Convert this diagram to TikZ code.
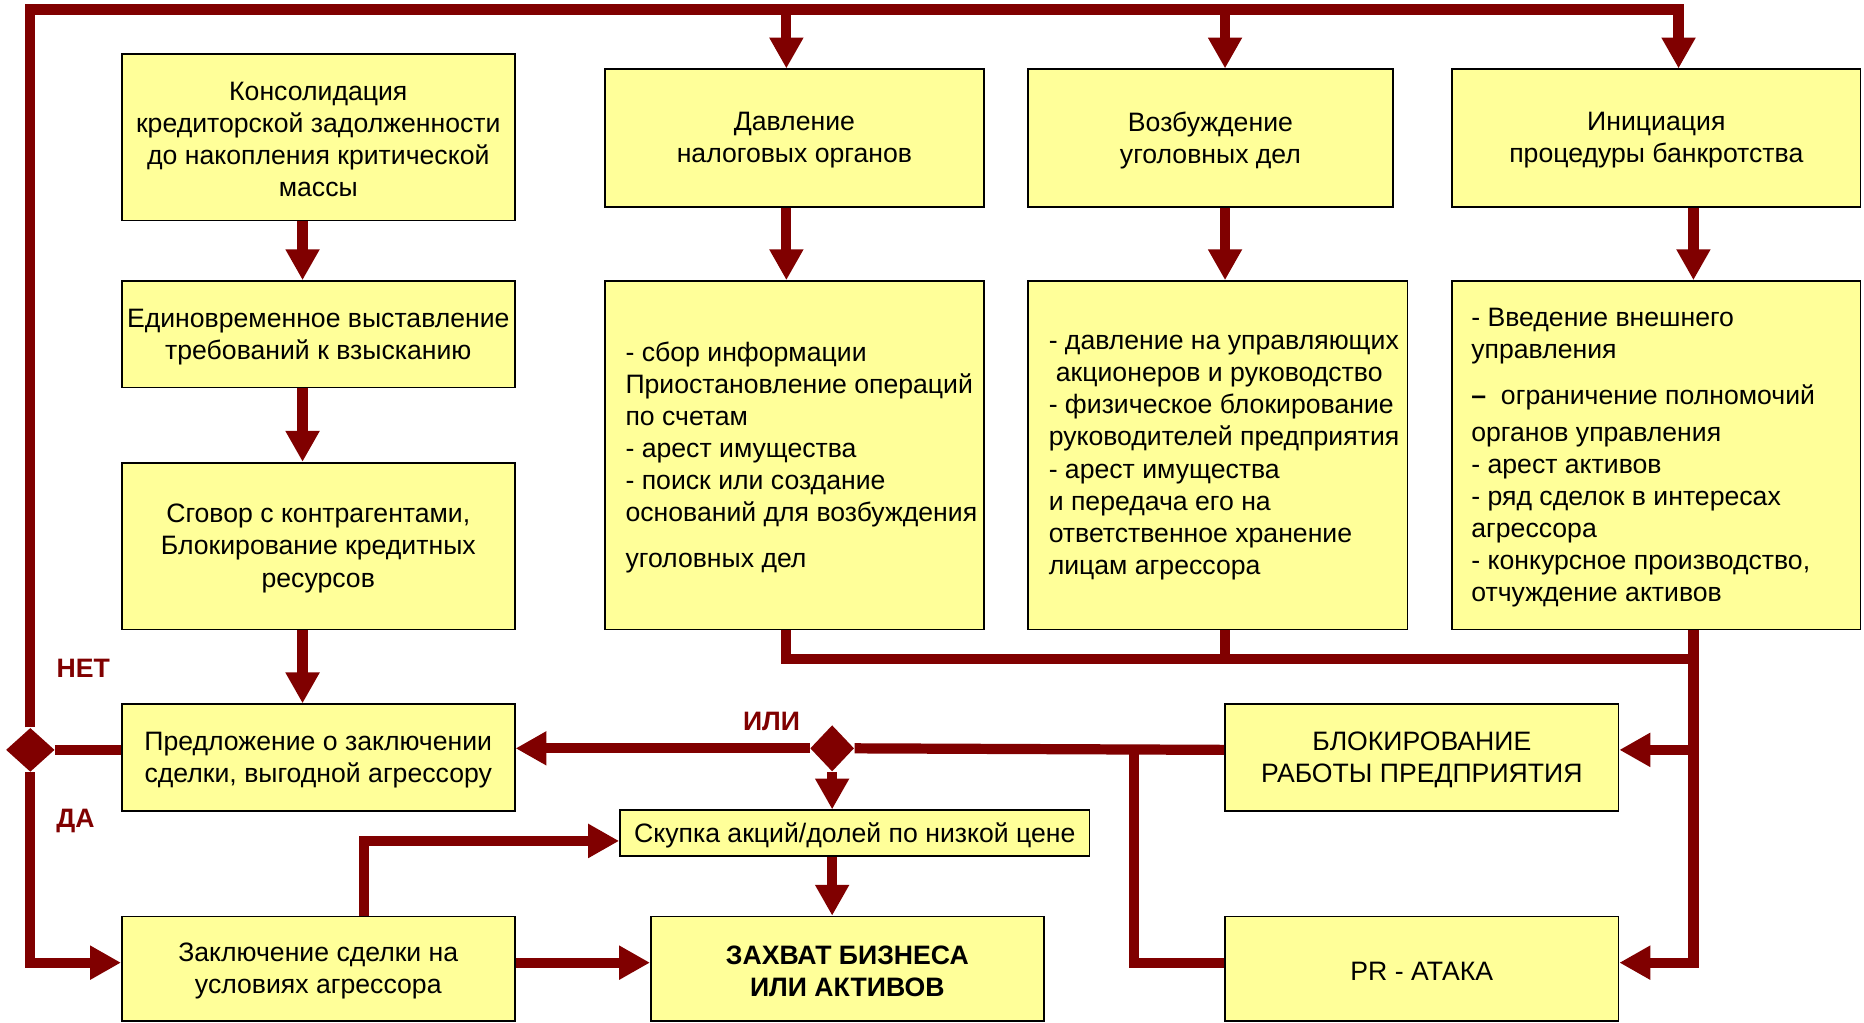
\documentclass[tikz,border=0pt]{standalone}
\usepackage{fontspec}
\setmainfont{Liberation Sans}
\usetikzlibrary{arrows.meta,shapes.geometric}
\definecolor{dred}{RGB}{128,0,0}
\definecolor{byel}{RGB}{255,255,153}
\begin{document}
\begin{tikzpicture}[x=0.5pt,y=-0.5pt,
  box/.style={draw=black, line width=0.7pt, fill=byel, inner sep=0pt},
  txt/.style={inner sep=0pt, align=center, font=\fontsize{11.2pt}{13.5pt}\selectfont},
  lst/.style={inner sep=0pt, align=left, font=\fontsize{11.2pt}{13.5pt}\selectfont},
  lbl/.style={inner sep=0pt, text=dred, font=\fontsize{11.2pt}{13.5pt}\selectfont\bfseries},
  dia/.style={diamond, fill=dred, inner sep=0pt},
  ln/.style={draw=dred, line width=4.3pt},
  arr/.style={draw=dred, line width=4.3pt, -{Triangle[length=13pt,width=13.5pt]}}]
\useasboundingbox (0,0) rectangle (1568,860);

% boxes
\node[box, minimum width=165.25pt, minimum height=70.1pt] (b1) at (267.75,115.5) {};
\node[box, minimum width=165.25pt, minimum height=44.8pt] (b2) at (267.75,281.2) {};
\node[box, minimum width=165.25pt, minimum height=70.1pt] (b3) at (267.75,459.3) {};
\node[box, minimum width=165.25pt, minimum height=44.9pt] (b4) at (267.75,637.3) {};
\node[box, minimum width=165.25pt, minimum height=44pt] (b5) at (267.75,815) {};
\node[box, minimum width=159.25pt, minimum height=57.8pt] (t1) at (668.25,116.1) {};
\node[box, minimum width=153.25pt, minimum height=57.8pt] (t2) at (1018.25,116.1) {};
\node[box, minimum width=171.75pt, minimum height=57.8pt] (t3) at (1393.25,116.1) {};
\node[box, minimum width=159.25pt, minimum height=146.5pt] (l1) at (668.25,382.9) {};
\node[box, minimum width=159.5pt, minimum height=146.5pt] (l2) at (1024.5,382.9) {};
\node[box, minimum width=171.75pt, minimum height=146.5pt] (l3) at (1393.25,382.9) {};
\node[box, minimum width=197.5pt, minimum height=19.2pt] (sk) at (719,700.8) {};
\node[box, minimum width=165.25pt, minimum height=44pt] (zx) at (712.75,815) {};
\node[box, minimum width=165.5pt, minimum height=44.9pt] (bl) at (1196,637.3) {};
\node[box, minimum width=165.5pt, minimum height=44pt] (pr) at (1196,815) {};

% texts
\node[txt] (b1t) at ([yshift=-1pt]b1.center)
  {Консолидация\\кредиторской задолженности\\до накопления критической\\массы};
\node[txt] (b2t) at ([yshift=-1pt]b2.center)
  {Единовременное выставление\\требований к взысканию};
\node[txt] (b3t) at ([yshift=-1pt]b3.center)
  {Сговор с контрагентами,\\Блокирование кредитных\\ресурсов};
\node[txt] (b4t) at ([yshift=-1pt]b4.center)
  {Предложение о заключении\\сделки, выгодной агрессору};
\node[txt] (b5t) at ([yshift=-1pt]b5.center)
  {Заключение сделки на\\условиях агрессора};
\node[txt] (t1t) at ([yshift=-1pt]t1.center) {Давление\\налоговых органов};
\node[txt] (t2t) at ([yshift=-1pt]t2.center) {Возбуждение\\уголовных дел};
\node[txt] (t3t) at ([yshift=-1pt]t3.center) {Инициация\\процедуры банкротства};
\node[lst, anchor=west] (l1t) at ([xshift=8.75pt,yshift=-1pt]l1.west)
  {- сбор информации\\Приостановление операций\\по счетам\\- арест имущества\\- поиск или создание\\оснований для возбуждения\\[6pt]уголовных дел};
\node[lst, anchor=west] (l2t) at ([xshift=8.75pt,yshift=-1pt]l2.west)
  {- давление на управляющих\\\hspace*{3pt}акционеров и руководство\\- физическое блокирование\\руководителей предприятия\\- арест имущества\\и передача его на\\ответственное хранение\\лицам агрессора};
\node[lst, anchor=west] (l3t) at ([xshift=8.25pt,yshift=-1pt]l3.west)
  {- Введение внешнего\\управления\\[6pt]{\bfseries –}\ \ ограничение полномочий\\[2pt]органов управления\\- арест активов\\- ряд сделок в интересах\\агрессора\\- конкурсное производство,\\отчуждение активов};
\node[txt] (skt) at ([yshift=-1pt]sk.center) {Скупка акций/долей по низкой цене};
\node[txt, font=\fontsize{11.2pt}{13.5pt}\selectfont\bfseries] (zxt) at ([yshift=-1pt]zx.center)
  {ЗАХВАТ БИЗНЕСА\\ИЛИ АКТИВОВ};
\node[txt] (blt) at ([yshift=-1pt]bl.center) {БЛОКИРОВАНИЕ\\РАБОТЫ ПРЕДПРИЯТИЯ};
\node[txt] (prt) at ([yshift=-1pt]pr.center) {PR - АТАКА};

% diamonds and labels
\node[dia, minimum width=20.5pt, minimum height=18.5pt] (d1) at (25.5,630.8) {};
\node[dia, minimum width=18.5pt, minimum height=19.5pt] (d2) at (700,629.5) {};
\node[lbl] (net) at (70,562) {НЕТ};
\node[lbl] (da) at (63.5,690.5) {ДА};
\node[lbl] (ili) at (649,606.5) {ИЛИ};

% helper coordinates
\coordinate (x1) at (661.5,8);
\coordinate (x2) at (1030.5,8);
\coordinate (x3) at (1412,8);
\coordinate (cx) at (254.5,0);
\coordinate (rx) at (1424.5,554.6);
\coordinate (y5) at (0,809.8);
\coordinate (sx) at (306,707.4);
\coordinate (j1) at (954,630.8);

% top bus
\draw[arr] (d1.north) |- (x3) -- (x3 |- t3.north);
\draw[arr] (x1) -- (x1 |- t1.north);
\draw[arr] (x2) -- (x2 |- t2.north);

% left column
\draw[arr] (cx |- b1.south) -- (cx |- b2.north);
\draw[arr] (cx |- b2.south) -- (cx |- b3.north);
\draw[arr] (cx |- b3.south) -- (cx |- b4.north);
\draw[ln] (d1.east) -- (d1 -| b4.west);
\draw[arr] (d1.south) |- (y5 -| b5.west);

% top boxes to lists
\draw[arr] (x1 |- t1.south) -- (x1 |- l1.north);
\draw[arr] (x2 |- t2.south) -- (x2 |- l2.north);
\draw[arr] (rx |- t3.south) -- (rx |- l3.north);

% bottom bus of lists
\draw[ln] (x1 |- l1.south) |- (rx);
\draw[ln] (x2 |- l2.south) -- (x2 |- rx);
\draw[arr] (rx |- l3.south) |- (y5 -| pr.east);
\draw[arr] (rx |- d1) -- (d1 -| bl.east);

% to diamond 2
\draw[ln] (d1 -| bl.west) -- (d2.east);
\draw[ln] (j1) |- (y5 -| pr.west);
\draw[arr] (d2.west) -- (d2 -| b4.east);
\draw[arr] (d2.south) -- (d2 |- sk.north);
\draw[arr] (d2 |- sk.south) -- (d2 |- zx.north);

% bottom row
\draw[arr] (sx |- b5.north) |- (sx -| sk.west);
\draw[arr] (y5 -| b5.east) -- (y5 -| zx.west);
\end{tikzpicture}
\end{document}
